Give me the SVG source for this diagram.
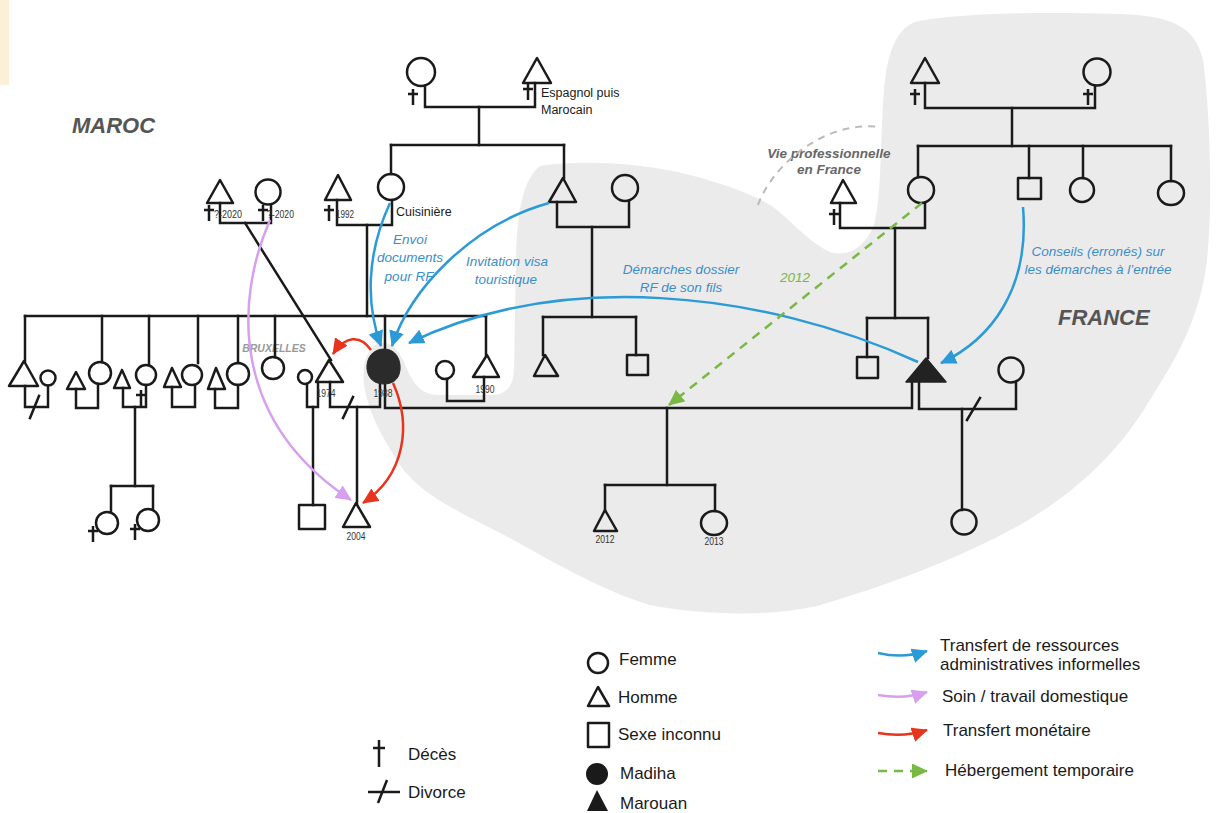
<svg xmlns="http://www.w3.org/2000/svg" width="1216" height="813" viewBox="0 0 1216 813">
<style>
.ln{stroke:#1a1a1a;stroke-width:2.5;fill:none;stroke-linecap:square;stroke-linejoin:miter}
.sh{stroke:#1a1a1a;stroke-width:2.5;fill:none;stroke-linejoin:round}
.fl{fill:#2b2b2b;stroke:#2b2b2b;stroke-width:1}
.t{font-family:"Liberation Sans",Arial,sans-serif;fill:#1a1a1a}
.yr{font-family:"Liberation Sans",Arial,sans-serif;font-size:11px;fill:#333;text-anchor:middle}
.yl{font-family:"Liberation Sans",Arial,sans-serif;font-size:10.5px;fill:#333}
.lbl{font-family:"Liberation Sans",Arial,sans-serif;font-style:italic;fill:#3a8ecb;font-size:13.5px;text-anchor:middle}
.reg{font-family:"Liberation Sans",Arial,sans-serif;font-style:italic;font-weight:bold;fill:#555;font-size:22px}
.leg{font-family:"Liberation Sans",Arial,sans-serif;font-size:17px;fill:#1a1a1a}
.ab{stroke:#2b9ad6;stroke-width:2.5;fill:none}
.ar{stroke:#e8341c;stroke-width:2.5;fill:none}
.ap{stroke:#d6a0ee;stroke-width:2.5;fill:none}
.ag{stroke:#78b843;stroke-width:2.5;fill:none;stroke-dasharray:9 7}
</style>
<defs>
<marker id="mb" markerUnits="userSpaceOnUse" markerWidth="17" markerHeight="15" refX="15" refY="7.5" orient="auto"><path d="M0,0 L16,7.5 L0,15 z" fill="#2b9ad6"/></marker>
<marker id="mr" markerUnits="userSpaceOnUse" markerWidth="17" markerHeight="15" refX="15" refY="7.5" orient="auto"><path d="M0,0 L16,7.5 L0,15 z" fill="#e8341c"/></marker>
<marker id="mp" markerUnits="userSpaceOnUse" markerWidth="17" markerHeight="15" refX="15" refY="7.5" orient="auto"><path d="M0,0 L16,7.5 L0,15 z" fill="#d6a0ee"/></marker>
<marker id="mg" markerUnits="userSpaceOnUse" markerWidth="17" markerHeight="15" refX="15" refY="7.5" orient="auto"><path d="M0,0 L16,7.5 L0,15 z" fill="#78b843"/></marker>
<g id="dag"><path d="M0,-8 V8 M-5,-3 H5" stroke="#1a1a1a" stroke-width="2.5" fill="none"/></g>
</defs>

<rect x="0" y="0" width="1216" height="813" fill="#ffffff"/>
<rect x="0" y="0" width="9" height="85" fill="#fdf0d8"/>

<!-- France region -->
<path id="france-region" fill="#ebebeb" d="M540,166 C580,160 640,162 690,175 C720,183 748,192 770,205 C790,218 805,240 830,252 C850,258 866,245 874,225 C882,195 880,140 884,90 C887,55 895,30 915,22 C960,12 1050,12 1120,14 C1170,16 1195,25 1203,60 C1210,110 1213,200 1207,260 C1200,320 1175,360 1150,400 C1120,450 1080,490 1020,525 C960,558 890,585 817,606 C770,617 700,615 650,605 C600,590 550,560 508,537 C465,515 420,495 400,465 C380,435 368,410 364,385 C362,365 366,350 377,344 C388,340 398,348 404,362 C410,378 418,393 435,395 L495,395 C508,393 513,385 514,370 L516,260 C517,215 522,180 540,166 Z"/>

<text class="reg" x="72" y="133">MAROC</text>
<text class="reg" x="1058" y="325">FRANCE</text>
<text x="274" y="352" font-family="Liberation Sans, Arial, sans-serif" font-size="10.5" font-style="italic" font-weight="bold" fill="#999" text-anchor="middle">BRUXELLES</text>
<g font-family="Liberation Sans, Arial, sans-serif" font-size="13.5" font-style="italic" font-weight="bold" fill="#666" text-anchor="middle">
<text x="829" y="158">Vie professionnelle</text>
<text x="829" y="174">en France</text>
</g>
<path d="M758,205 C770,170 820,120 880,127" stroke="#bbbbbb" stroke-width="2" fill="none" stroke-dasharray="7 6"/>

<!-- connectors: family lines -->
<g id="connectors" class="ln">
<path d="M425,86 V107 H535 V83"/>
<path d="M479,107 V145"/>
<path d="M391,145 H564"/>
<path d="M391,145 V174"/>
<path d="M564,145 V178"/>
<path d="M557,202 V227 H629 V201"/>
<path d="M592,227 V317"/>
<path d="M543,317 H636"/>
<path d="M543,317 V355"/>
<path d="M636,317 V355"/>
<path d="M337,200 V225 H392 V200"/>
<path d="M367,225 V316"/>
<path d="M220,203 V223 H271 V205"/>
<path d="M245,223 L331,360"/>
<path d="M25,316 H486"/>
<path d="M25,316 V361 M102,316 V362 M149,316 V365 M198,316 V363 M238,316 V363 M275,316 V357 M385,316 V349 M486,316 V355"/>
<path d="M25,386 V407 H48 V386"/>
<path d="M30,418 L39,396"/>
<path d="M76,389 V408 H98 V384"/>
<path d="M123,388 V407 H146 V385"/>
<path d="M135,407 V486"/>
<path d="M111,486 H153"/>
<path d="M111,486 V512 M153,486 V509"/>
<path d="M172,387 V407 H195 V385"/>
<path d="M215,389 V408 H238 V385"/>
<path d="M307,384 V407 H318 V382"/>
<path d="M313,407 V505"/>
<path d="M330,382 V407 H380 V383"/>
<path d="M343,418 L353,397"/>
<path d="M357,407 V503"/>
<path d="M385,383 V408 H912 V382"/>
<path d="M667,408 V485"/>
<path d="M605,485 H715"/>
<path d="M605,485 V510 M715,485 V511"/>
<path d="M447,379 V401 H484 V377"/>
<path d="M840,203 V228 H925 V203"/>
<path d="M895,228 V318"/>
<path d="M867,318 H928"/>
<path d="M867,318 V357 M928,318 V358"/>
<path d="M919,382 V409 H1016 V383"/>
<path d="M967,420 L980,398"/>
<path d="M962,409 V510"/>
<path d="M925,83 V108 H1095 V86"/>
<path d="M1012,108 V146"/>
<path d="M918,146 H1171"/>
<path d="M918,146 V177 M1029,146 V178 M1083,146 V178 M1171,146 V181"/>
</g>

<!-- nodes -->
<g id="n-gm-mat"><circle class="sh" cx="421" cy="72" r="14"/><use href="#dag" x="413" y="97"/></g>
<g id="n-gf-mat"><polygon class="sh" points="537,58 523,83 551,83"/><use href="#dag" x="528" y="92"/>
<text class="t" font-size="12.5" x="541" y="97">Espagnol puis</text><text class="t" font-size="12.5" x="541" y="114">Marocain</text></g>
<g id="n-cuisiniere"><circle class="sh" cx="391" cy="187" r="13"/><text class="t" font-size="12.5" x="396" y="216">Cuisinière</text></g>
<g id="n-gf-pat"><polygon class="sh" points="338,175 325,200 351,200"/><use href="#dag" x="329" y="213"/><text class="yl" x="336" y="218" textLength="18" lengthAdjust="spacingAndGlyphs">1992</text></g>
<g id="n-ggf"><polygon class="sh" points="220,180 207,203 233,203"/><use href="#dag" x="209" y="213"/><text class="yl" x="214" y="218" textLength="28" lengthAdjust="spacingAndGlyphs">?-2020</text></g>
<g id="n-ggm"><circle class="sh" cx="268" cy="192" r="12.5"/><use href="#dag" x="263" y="213"/><text class="yl" x="267" y="218" textLength="27" lengthAdjust="spacingAndGlyphs">?-2020</text></g>
<g id="n-uncle"><polygon class="sh" points="563,178 549,202 576,202"/></g>
<g id="n-aunt"><circle class="sh" cx="625" cy="188" r="13"/></g>
<g id="n-cousin1"><polygon class="sh" points="545,355 534,376 558,376"/></g>
<g id="n-cousin2"><rect class="sh" x="627" y="355" width="21" height="20"/></g>

<g id="n-sib1"><polygon class="sh" points="24,361 9,386 38,386"/><circle class="sh" cx="48" cy="378" r="7.5"/></g>
<g id="n-sib2"><polygon class="sh" points="76,372 67,389 85,389"/><circle class="sh" cx="100" cy="373" r="11"/></g>
<g id="n-sib3"><polygon class="sh" points="122,370 114,388 130,388"/><circle class="sh" cx="146" cy="375" r="10"/><use href="#dag" x="141" y="398"/></g>
<g id="n-sib3-kids"><circle class="sh" cx="107" cy="523" r="11"/><use href="#dag" x="93" y="534"/><circle class="sh" cx="148" cy="520" r="11"/><use href="#dag" x="135" y="532"/></g>
<g id="n-sib4"><polygon class="sh" points="172,368 164,387 181,387"/><circle class="sh" cx="192" cy="375" r="10"/></g>
<g id="n-sib5"><polygon class="sh" points="216,368 208,389 225,389"/><circle class="sh" cx="238" cy="374" r="11"/></g>
<g id="n-sib6"><circle class="sh" cx="273" cy="368" r="11"/></g>
<g id="n-1974"><polygon class="sh" points="329,360 316,382 343,382"/><text class="yr" x="326" y="397" textLength="19" lengthAdjust="spacingAndGlyphs">1974</text><circle class="sh" cx="305" cy="377" r="7"/></g>
<g id="n-1974-kid"><rect class="sh" x="299" y="505" width="26" height="24"/></g>
<g id="n-2004"><polygon class="sh" points="356,503 343,527 370,527"/><text class="yr" x="356" y="540" textLength="19" lengthAdjust="spacingAndGlyphs">2004</text></g>
<g id="n-madiha"><path class="fl" d="M384,349 C396,349 401,360 400,370 C399,380 392,384 384,384 C375,384 368,379 367,369 C366,358 373,349 384,349 Z"/><text class="yr" x="383" y="397" textLength="19" lengthAdjust="spacingAndGlyphs">1988</text></g>
<g id="n-1990"><polygon class="sh" points="487,355 473,377 499,377"/><text class="yr" x="485" y="393" textLength="19" lengthAdjust="spacingAndGlyphs">1990</text><circle class="sh" cx="445" cy="370" r="9"/></g>
<g id="n-2012"><polygon class="sh" points="605,510 594,531 617,531"/><text class="yr" x="605" y="543" textLength="19" lengthAdjust="spacingAndGlyphs">2012</text></g>
<g id="n-2013"><ellipse class="sh" cx="714" cy="523" rx="13" ry="12"/><text class="yr" x="714" y="545" textLength="19" lengthAdjust="spacingAndGlyphs">2013</text></g>

<g id="n-gf-marouan"><polygon class="sh" points="925,58 911,83 939,83"/><use href="#dag" x="915" y="97"/></g>
<g id="n-gm-marouan"><circle class="sh" cx="1097" cy="72" r="13.5"/><use href="#dag" x="1088" y="97"/></g>
<g id="n-father-marouan"><polygon class="sh" points="843,180 831,203 856,203"/><use href="#dag" x="834" y="217"/></g>
<g id="n-mother-marouan"><circle class="sh" cx="921" cy="190" r="13"/></g>
<g id="n-aunt-sq"><rect class="sh" x="1018" y="178" width="23" height="21"/></g>
<g id="n-aunt2"><circle class="sh" cx="1082" cy="190" r="12"/></g>
<g id="n-aunt3"><ellipse class="sh" cx="1171" cy="193" rx="13" ry="12"/></g>
<g id="n-sib-marouan"><rect class="sh" x="857" y="357" width="21" height="21"/></g>
<g id="n-marouan"><polygon points="926,358 906,382 946,382" fill="#222" stroke="#222" stroke-width="1.5" stroke-linejoin="round"/></g>
<g id="n-wife-marouan"><circle class="sh" cx="1011" cy="370" r="12.5"/></g>
<g id="n-daughter-marouan"><circle class="sh" cx="964" cy="522" r="12.5"/></g>

<!-- arrows -->
<g id="arrows">
<path class="ab" d="M390,203 C366,255 366,305 381,346" marker-end="url(#mb)"/>
<path class="ab" d="M549,203 C470,225 410,290 392,346" marker-end="url(#mb)"/>
<path class="ab" d="M918,362 C760,290 560,270 409,343" marker-end="url(#mb)"/>
<path class="ab" d="M1023,207 C1030,290 990,340 941,363" marker-end="url(#mb)"/>
<path class="ar" d="M371,350 C360,334 345,336 333,354" marker-end="url(#mr)"/>
<path class="ar" d="M393,383 C412,425 405,475 363,503" marker-end="url(#mr)"/>
<path class="ap" d="M270,220 C235,300 230,420 351,500" marker-end="url(#mp)"/>
<path class="ag" d="M922,203 L669,405" marker-end="url(#mg)"/>
</g>

<!-- arrow labels -->
<g id="arrow-labels">
<text class="lbl" x="410" y="244">Envoi</text>
<text class="lbl" x="410" y="262">documents</text>
<text class="lbl" x="409" y="281">pour RF</text>
<text class="lbl" x="507" y="266">Invitation visa</text>
<text class="lbl" x="506" y="284">touristique</text>
<text class="lbl" x="681" y="274">Démarches dossier</text>
<text class="lbl" x="681" y="292">RF de son fils</text>
<text class="lbl" x="1098" y="256" font-size="13">Conseils (erronés) sur</text>
<text class="lbl" x="1098" y="274" font-size="13">les démarches à l’entrée</text>
<text x="795" y="282" font-family="Liberation Sans, Arial, sans-serif" font-style="italic" font-size="13.5" fill="#7ab648" text-anchor="middle">2012</text>
</g>

<!-- legend -->
<g id="legend">
<circle class="sh" cx="598" cy="663" r="10"/>
<text class="leg" x="619" y="665">Femme</text>
<polygon class="sh" points="598,687 588,706 609,706"/>
<text class="leg" x="618" y="703">Homme</text>
<rect class="sh" x="588" y="723" width="21" height="24"/>
<text class="leg" x="618" y="740">Sexe inconnu</text>
<ellipse cx="597" cy="774" rx="11" ry="11" fill="#1a1a1a"/>
<text class="leg" x="620" y="779">Madiha</text>
<polygon points="597,790 587,811 608,811" fill="#1a1a1a"/>
<text class="leg" x="620" y="809">Marouan</text>
<path d="M379,740 V767 M373,748 H385" stroke="#1a1a1a" stroke-width="2.5" fill="none"/>
<text class="leg" x="408" y="760">Décès</text>
<path d="M368,792 H400 M387,780 L378,803" stroke="#1a1a1a" stroke-width="2.5" fill="none"/>
<text class="leg" x="408" y="798">Divorce</text>
<path class="ab" d="M878,653 C895,657 912,656 927,651" marker-end="url(#mb)"/>
<text class="leg" x="940" y="651">Transfert de ressources</text>
<text class="leg" x="940" y="670">administratives informelles</text>
<path class="ap" d="M878,695 C895,698 912,697 927,692" marker-end="url(#mp)"/>
<text class="leg" x="942" y="702">Soin / travail domestique</text>
<path class="ar" d="M878,733 C895,736 912,735 927,730" marker-end="url(#mr)"/>
<text class="leg" x="943" y="736">Transfert monétaire</text>
<path class="ag" d="M878,771 L927,771" stroke-dasharray="7 6" marker-end="url(#mg)"/>
<text class="leg" x="945" y="776">Hébergement temporaire</text>
</g>
</svg>
